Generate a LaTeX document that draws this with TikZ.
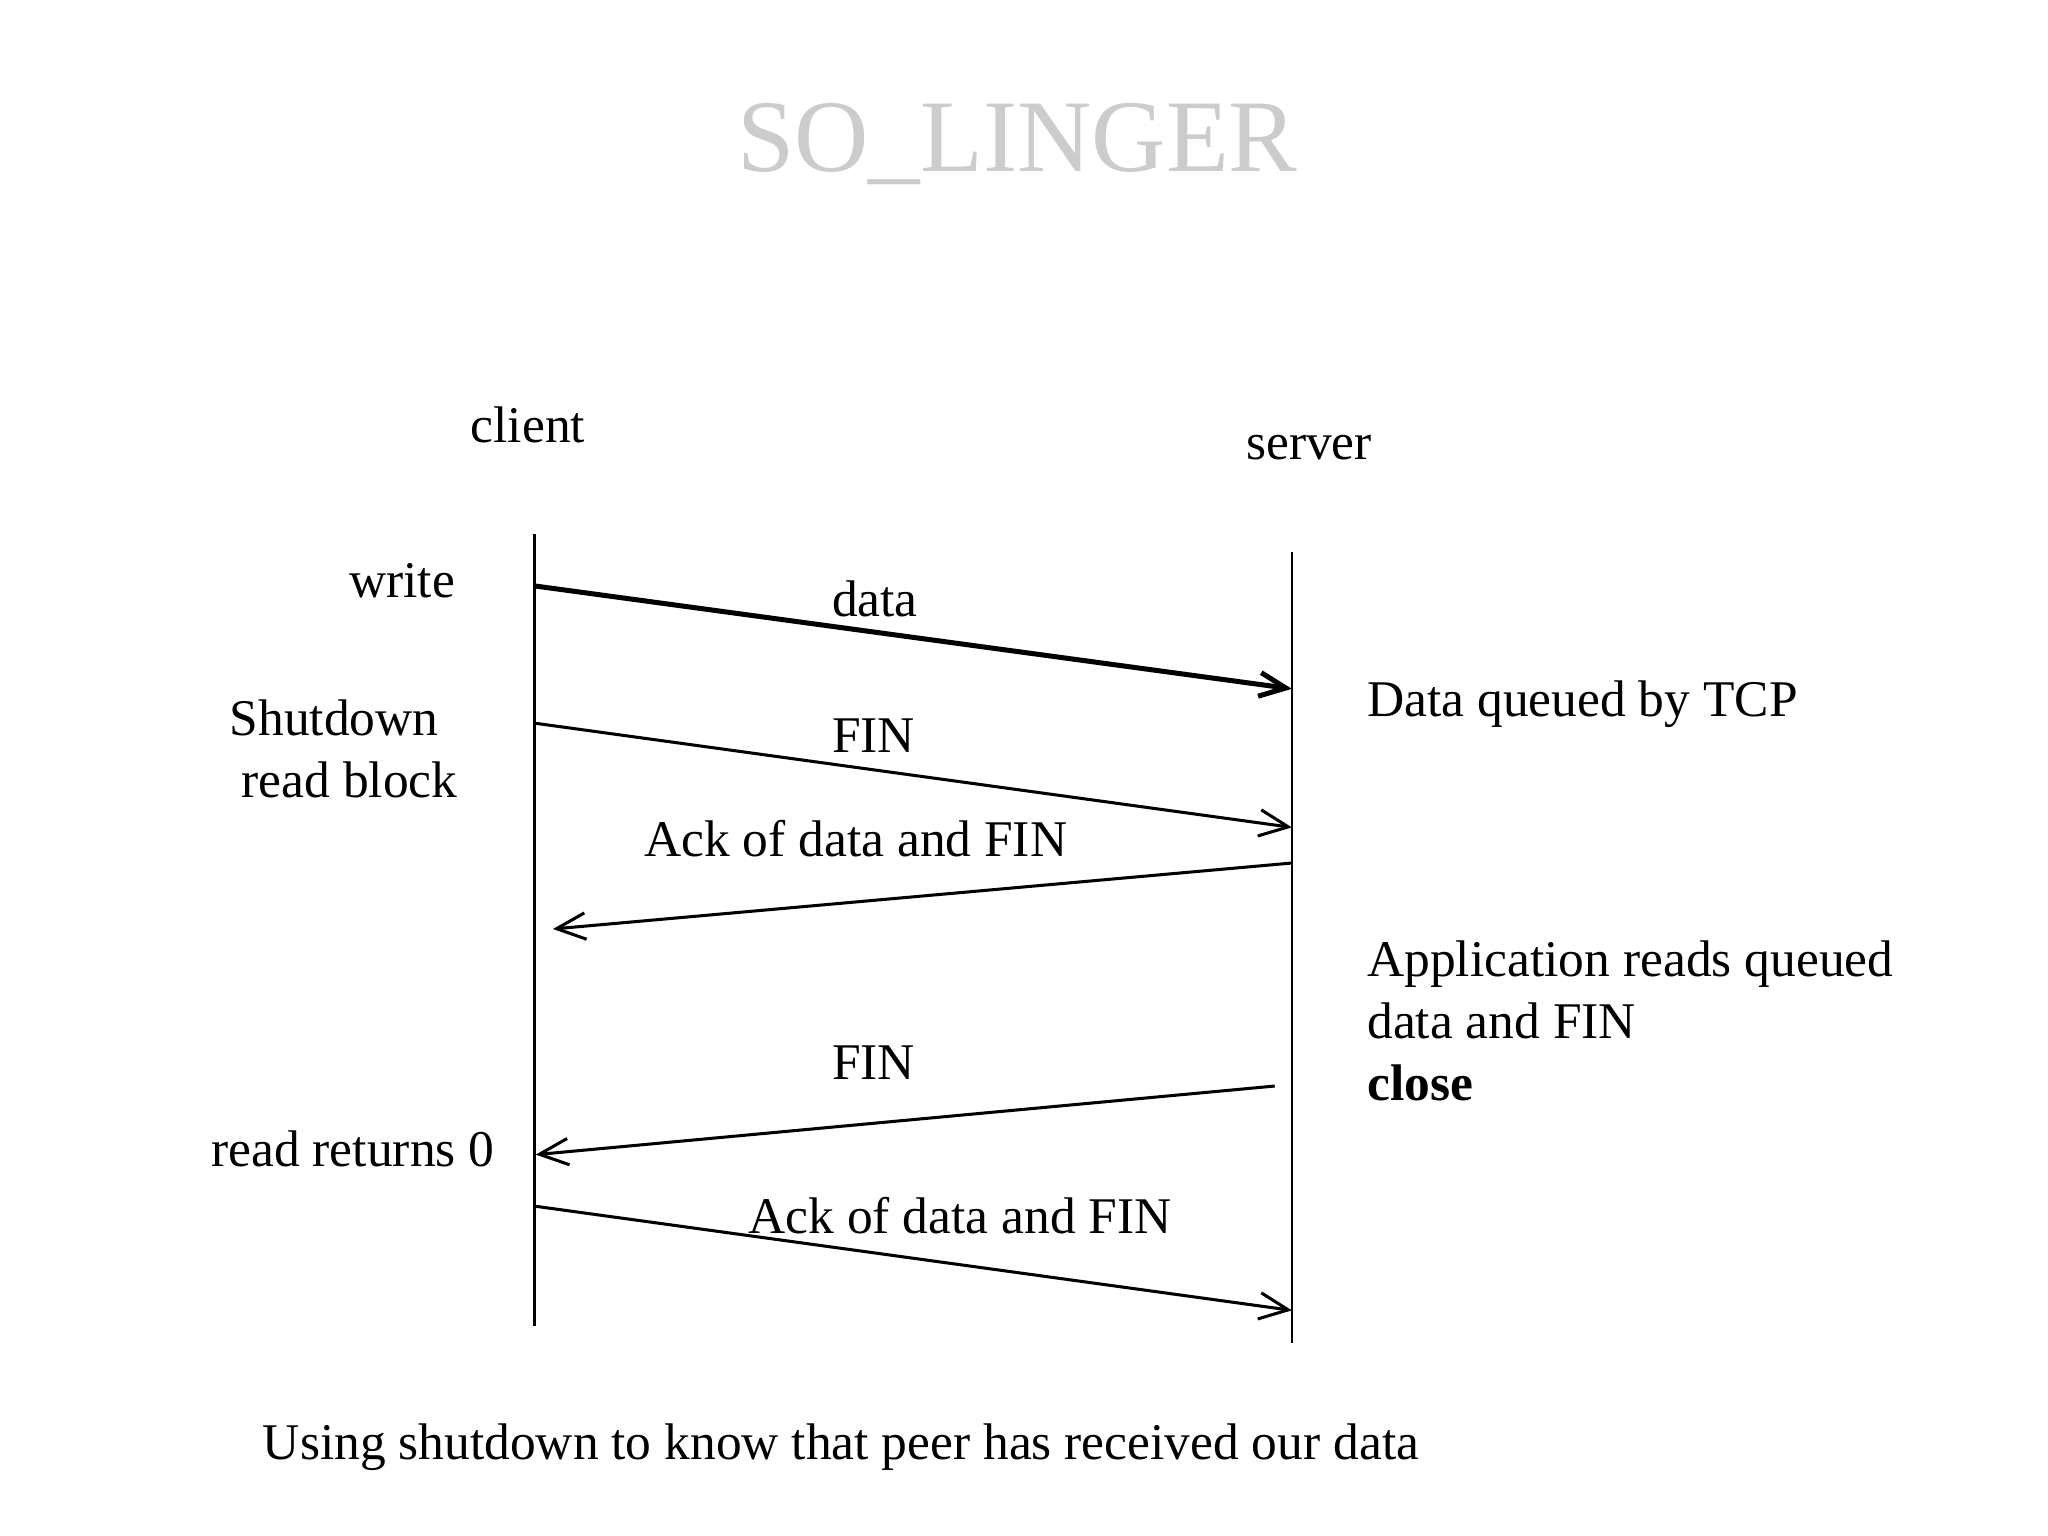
\documentclass[tikz,border=0pt]{standalone}
\usepackage{fontspec}
\setmainfont{Liberation Serif}
\usetikzlibrary{arrows.meta}
\definecolor{titlegray}{HTML}{CCCCCC}
\begin{document}
\begin{tikzpicture}[x=1pt,y=-1pt,
  txt/.style={inner sep=0pt,font=\fontsize{39}{47}\selectfont},
  life/.style={line width=1.8pt},
  msg/.style={line width=2.3pt,-{Straight Barb[length=22pt,width=20pt]}},
  bigmsg/.style={line width=3.8pt,-{Straight Barb[length=20pt,width=18pt]}}]
\useasboundingbox[fill=white] (0,0) rectangle (1552,1164);
% title
\node[inner sep=0pt,anchor=base,text=titlegray,font=\fontsize{78}{94}\selectfont] (title) at (771,130) {SO\_LINGER};
% lifeline headers
\node[txt,anchor=base] (client) at (400,335) {client};
\node[txt,anchor=base] (server) at (992,348) {server};
% lifelines
\coordinate (ctop) at (405,405);
\coordinate (cbot) at (405,1005);
\coordinate (stop) at (979,418);
\coordinate (sbot) at (979,1018);
\draw[life] (ctop) -- (cbot);
\draw[life] (stop) -- (sbot);
% message end points
\coordinate (m1a) at (405,444);
\coordinate (m1b) at (979,522);
\coordinate (m2a) at (405,548);
\coordinate (m2b) at (979,627);
\coordinate (m3a) at (979,654);
\coordinate (m3b) at (419,704);
\coordinate (m4a) at (966,823);
\coordinate (m4b) at (406,875);
\coordinate (m5a) at (405,914);
\coordinate (m5b) at (979,993);
\draw[bigmsg] (m1a) -- (m1b);
\draw[msg] (m2a) -- (m2b);
\draw[msg] (m3a) -- (m3b);
\draw[msg] (m4a) -- (m4b);
\draw[msg] (m5a) -- (m5b);
% message labels
\node[txt,anchor=base] (ldata) at (663,467) {data};
\node[txt,anchor=base] (lfin1) at (662,570) {FIN};
\node[txt,anchor=base west] (lack1) at (488,649) {Ack of data and FIN};
\node[txt,anchor=base] (lfin2) at (662,818) {FIN};
\node[txt,anchor=base west] (lack2) at (567,935) {Ack of data and FIN};
% client side labels
\node[txt,anchor=base east] (write) at (345,453) {write};
\node[txt,anchor=base west] (shut) at (174,557) {Shutdown};
\node[txt,anchor=base west] (rblock) at (183,604) {read block};
\node[txt,anchor=base west] (rret) at (160,884) {read returns 0};
% server side labels
\node[txt,anchor=base west] (queued) at (1036,543) {Data queued by TCP};
\node[txt,anchor=base west] (app1) at (1036,740) {Application reads queued};
\node[txt,anchor=base west] (app2) at (1036,787) {data and FIN};
\node[txt,anchor=base west,font=\fontsize{39}{47}\selectfont\bfseries] (close) at (1036,834) {close};
% caption
\node[txt,anchor=base west] (caption) at (199,1106) {Using shutdown to know that peer has received our data};
\end{tikzpicture}
\end{document}
